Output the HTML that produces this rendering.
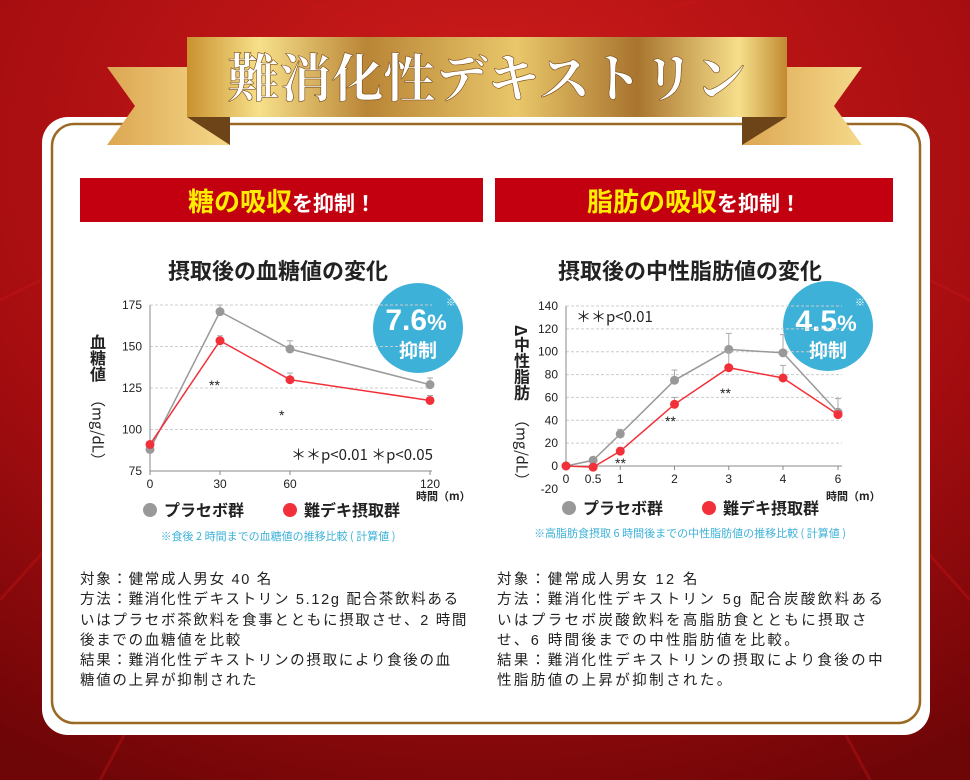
<!DOCTYPE html>
<html><head><meta charset="utf-8">
<style>
*{margin:0;padding:0;box-sizing:border-box}
body{width:970px;height:780px;overflow:hidden;font-family:"Liberation Sans","Noto Sans CJK JP",sans-serif;background:#8e0a0c;position:relative}
.abs{position:absolute}
.txt{font-size:14.5px;line-height:20.3px;color:#222;white-space:nowrap}
</style></head>
<body>
<svg class="abs" style="left:0;top:0" width="970" height="780">
<defs>
<radialGradient id="bg" cx="0.5" cy="0.2" r="0.9"><stop offset="0" stop-color="#d21d1c"/><stop offset="0.6" stop-color="#a60d10"/><stop offset="1" stop-color="#6e0507"/></radialGradient>
<linearGradient id="gold" x1="0" x2="1" y1="0" y2="0"><stop offset="0" stop-color="#c9922f"/><stop offset="0.12" stop-color="#f7e08a"/><stop offset="0.3" stop-color="#b98536"/><stop offset="0.55" stop-color="#e9c76a"/><stop offset="0.75" stop-color="#a8742e"/><stop offset="0.92" stop-color="#f6df8b"/><stop offset="1" stop-color="#c08a32"/></linearGradient>
<linearGradient id="tail" x1="0" x2="1"><stop offset="0" stop-color="#dca652"/><stop offset="1" stop-color="#f5d98a"/></linearGradient>
</defs>
<rect width="970" height="780" fill="url(#bg)"/>
<g stroke="#c81818" stroke-opacity="0.35" stroke-width="3">
<line x1="485" y1="60" x2="0" y2="300"/><line x1="485" y1="60" x2="0" y2="600"/><line x1="485" y1="60" x2="970" y2="300"/><line x1="485" y1="60" x2="970" y2="600"/><line x1="485" y1="60" x2="100" y2="780"/><line x1="485" y1="60" x2="870" y2="780"/><line x1="485" y1="60" x2="300" y2="0"/><line x1="485" y1="60" x2="700" y2="0"/>
</g>
<rect x="42" y="117" width="888" height="618" rx="26" fill="#fff"/>
<rect x="52" y="124" width="868" height="599" rx="22" fill="none" stroke="#9a6a24" stroke-width="2.5"/>
<polygon points="107,67 230,67 230,145 107,145 135,106" fill="url(#tail)"/>
<polygon points="187,117 230,117 230,145" fill="#6d4418"/>
<polygon points="862,67 742,67 742,145 862,145 834,106" fill="url(#tail)"/>
<polygon points="787,117 742,117 742,145" fill="#6d4418"/>
<rect x="187" y="37" width="600" height="80" fill="url(#gold)"/>
<text x="487" y="97" text-anchor="middle" font-family="'Noto Serif CJK SC',serif" font-size="52" font-weight="bold" fill="#fff" stroke="#7a4a14" stroke-width="0.6">難消化性デキストリン</text>
<rect x="80" y="178" width="403" height="44" fill="#c3000f"/>
<rect x="495" y="178" width="398" height="44" fill="#c3000f"/>
<text x="282" y="211" text-anchor="middle" font-size="26" font-weight="bold" fill="#ffee00" font-family="'Noto Sans CJK JP',sans-serif">糖の吸収<tspan fill="#fff" font-size="21">を抑制！</tspan></text>
<text x="694" y="211" text-anchor="middle" font-size="26" font-weight="bold" fill="#ffee00" font-family="'Noto Sans CJK JP',sans-serif">脂肪の吸収<tspan fill="#fff" font-size="21">を抑制！</tspan></text>
<text x="278" y="279" text-anchor="middle" font-size="22" font-weight="bold" fill="#222" font-family="'Noto Sans CJK JP',sans-serif">摂取後の血糖値の変化</text>
<text x="690" y="279" text-anchor="middle" font-size="22" font-weight="bold" fill="#222" font-family="'Noto Sans CJK JP',sans-serif">摂取後の中性脂肪値の変化</text>
<circle cx="418" cy="328" r="45" fill="#3db1d8"/>
<text x="416" y="330" text-anchor="middle" font-size="30" font-weight="bold" fill="#fff">7.6<tspan font-size="22">%</tspan></text>
<text x="446" y="306" font-size="10" fill="#fff">※</text>
<text x="418" y="357" text-anchor="middle" font-size="19" font-weight="bold" fill="#fff" font-family="'Noto Sans CJK JP',sans-serif">抑制</text>
<circle cx="828" cy="326" r="45" fill="#3db1d8"/>
<text x="826" y="331" text-anchor="middle" font-size="30" font-weight="bold" fill="#fff">4.5<tspan font-size="22">%</tspan></text>
<text x="855" y="306" font-size="10" fill="#fff">※</text>
<text x="828" y="357" text-anchor="middle" font-size="19" font-weight="bold" fill="#fff" font-family="'Noto Sans CJK JP',sans-serif">抑制</text>
<g id="chartL"></g><g id="chartR"></g>
</svg>
<div class="abs txt" style="left:80px;top:570px;letter-spacing:1.7px">
<div>対象：健常成人男女 40 名</div>
<div>方法：難消化性デキストリン 5.12g 配合茶飲料ある</div>
<div>いはプラセボ茶飲料を食事とともに摂取させ、2 時間</div>
<div>後までの血糖値を比較</div>
<div>結果：難消化性デキストリンの摂取により食後の血</div>
<div>糖値の上昇が抑制された</div>
</div>
<div class="abs txt" style="left:497px;top:570px;letter-spacing:2.4px">
<div>対象：健常成人男女 12 名</div>
<div>方法：難消化性デキストリン 5g 配合炭酸飲料ある</div>
<div>いはプラセボ炭酸飲料を高脂肪食とともに摂取さ</div>
<div>せ、6 時間後までの中性脂肪値を比較。</div>
<div>結果：難消化性デキストリンの摂取により食後の中</div>
<div>性脂肪値の上昇が抑制された。</div>
</div>
<script>
const NS='http://www.w3.org/2000/svg';
// Left chart data
const lX=[0,30,60,120];
const lPlacebo=[88,171,148.5,127];
const lTreat=[91,153.5,130,117.5];
const lPlaceboErr=[0,4,5,4];
const lTreatErr=[0,3,4,3];
const lTicks=[75,100,125,150,175];
// Right chart data
const rX=[0,0.5,1,2,3,4,6];
const rXLabels=['0','0.5','1','2','3','4','6'];
const rPlacebo=[0,5,28,75,102,99,47];
const rTreat=[0,-1,13,54,86,77,45];
const rPlaceboErr=[0,0,4,9,14,16,12];
const rTreatErr=[0,0,3,6,14,11,4];
const rTicks=[-20,0,20,40,60,80,100,120,140];

function mk(parent,tag,attrs,text){const e=document.createElementNS(NS,tag);for(const k in attrs)e.setAttribute(k,attrs[k]);if(text!==undefined)e.textContent=text;parent.appendChild(e);return e;}

function drawChart(g,o){
  const {xs,ys,xv,xl,p,t,pe,te,ticks,x0,x1,ybase}=o;
  ticks.forEach(v=>{
    const y=ys(v);
    if(y<ys(ybase)) {const l=mk(g,'line',{x1:x0,x2:x1,y1:y,y2:y,stroke:'#ccc','stroke-dasharray':'3,2','stroke-width':1});
    
    }
    const tx=mk(g,'text',{x:x0-8,y:y+4,'text-anchor':'end','font-size':12,fill:'#222'},v);
    
    
  });
  const ax=mk(g,'path',{d:`M${x0} ${ys(ticks[ticks.length-1])}V${ys(ybase)}H${x1}`,stroke:'#888',fill:'none'});
  
  
  xv.forEach((v,i)=>{
    mk(g,'line',{x1:xs(v),x2:xs(v),y1:ys(ybase),y2:ys(ybase)+4,stroke:'#888'});
    const tx=mk(g,'text',{x:xs(v),y:ys(ybase)+17,'text-anchor':'middle','font-size':12,fill:'#222'},xl[i]);
    
    
  });
  [[p,pe,'#999'],[t,te,'#f2303a']].forEach(([d,e,c],si)=>{
    d.forEach((v,i)=>{ if(e[i]>0) mk(g,'path',{d:`M${xs(xv[i])} ${ys(v)}V${ys(v+e[i])}M${xs(xv[i])-3} ${ys(v+e[i])}h6`,stroke:'#aaa',fill:'none'});});
    const ln=mk(g,'polyline',{points:d.map((v,i)=>xs(xv[i])+','+ys(v)).join(' '),fill:'none',stroke:c,'stroke-width':1.5});
    
    
    d.forEach((v,i)=>{const pt=mk(g,'circle',{cx:xs(xv[i]),cy:ys(v),r:4.5,fill:c});
    
    });
  });
}
const gL=document.getElementById('chartL');
const lys=v=>471-(v-75)*1.66, lxs=v=>150+v*70/30;
drawChart(gL,{xs:lxs,ys:lys,xv:lX,xl:lX,p:lPlacebo,t:lTreat,pe:lPlaceboErr,te:lTreatErr,ticks:lTicks,x0:150,x1:432,ybase:75});
const gR=document.getElementById('chartR');
const rys=v=>466-v*160/140, rxs=v=>v<=4?566+v*54.25:783+(v-4)*27.5;
drawChart(gR,{xs:rxs,ys:rys,xv:rX,xl:rXLabels,p:rPlacebo,t:rTreat,pe:rPlaceboErr,te:rTreatErr,ticks:rTicks,x0:566,x1:842,ybase:0});
function txt(g,x,y,s,sz,attrs){return mk(g,'text',Object.assign({x:x,y:y,'font-size':sz,fill:'#222'},attrs||{}),s);}
const jp={'font-family':"'Noto Sans CJK JP',sans-serif"};
txt(gL,209,390,'**',14);txt(gL,279,420,'*',14);
txt(gL,291,460,'＊＊p<0.01 ＊p<0.05',15,jp);
txt(gL,416,500,'時間（m）',11,Object.assign({'font-weight':'bold'},jp));
txt(gL,98,334,'血糖値',16,Object.assign({'font-weight':'bold','writing-mode':'tb'},jp));
txt(gL,98,392,'（mg/dL）',15,Object.assign({'writing-mode':'tb'},jp));
txt(gR,576,322,'＊＊p<0.01',15,jp);
txt(gR,615,468,'**',14);txt(gR,665,426,'**',14);txt(gR,720,398,'**',14);
txt(gR,826,500,'時間（m）',11,Object.assign({'font-weight':'bold'},jp));
txt(gR,522,325,'Δ中性脂肪',16,Object.assign({'font-weight':'bold','writing-mode':'tb'},jp));
txt(gR,522,412,'（mg/dL）',15,Object.assign({'writing-mode':'tb'},jp));
function legend(g,x,y){
  mk(g,'circle',{cx:x,cy:y,r:7,fill:'#999'});
  txt(g,x+14,y+6,'プラセボ群',16,Object.assign({'font-weight':'bold'},jp));
  mk(g,'circle',{cx:x+140,cy:y,r:7,fill:'#f2303a'});
  txt(g,x+154,y+6,'難デキ摂取群',16,Object.assign({'font-weight':'bold'},jp));
}
legend(gL,150,510);legend(gR,569,508);
txt(gL,278,540,'※食後 2 時間までの血糖値の推移比較 ( 計算値 )',11,Object.assign({'text-anchor':'middle',fill:'#3db1d8'},jp));
txt(gR,690,537,'※高脂肪食摂取 6 時間後までの中性脂肪値の推移比較 ( 計算値 )',11,Object.assign({'text-anchor':'middle',fill:'#3db1d8'},jp));




</script>
</body></html>
